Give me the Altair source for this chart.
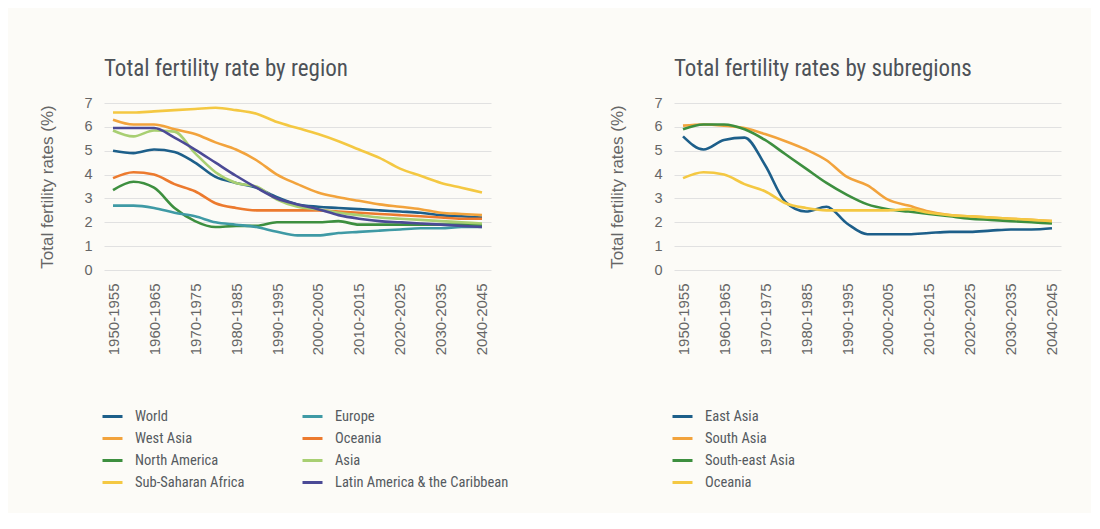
import altair as alt
import pandas as pd

periods = ["1950-1955", "1955-1960", "1960-1965", "1965-1970", "1970-1975",
           "1975-1980", "1980-1985", "1985-1990", "1990-1995", "1995-2000",
           "2000-2005", "2005-2010", "2010-2015", "2015-2020", "2020-2025",
           "2025-2030", "2030-2035", "2035-2040", "2040-2045"]
label_periods = periods[::2]

# Left chart: regions
world = [5.0, 4.9, 5.05, 4.95, 4.5, 3.9, 3.65, 3.45, 3.05, 2.75, 2.65, 2.6, 2.55, 2.5, 2.45, 2.4, 2.3, 2.25, 2.2]
europe = [2.7, 2.7, 2.6, 2.4, 2.25, 2.0, 1.9, 1.8, 1.6, 1.45, 1.45, 1.55, 1.6, 1.65, 1.7, 1.75, 1.75, 1.8, 1.8]
west_asia = [6.3, 6.1, 6.1, 5.9, 5.7, 5.35, 5.05, 4.6, 4.0, 3.6, 3.25, 3.05, 2.9, 2.75, 2.65, 2.55, 2.4, 2.35, 2.3]
oceania = [3.85, 4.1, 4.0, 3.6, 3.3, 2.8, 2.6, 2.5, 2.5, 2.5, 2.5, 2.45, 2.4, 2.35, 2.3, 2.25, 2.2, 2.15, 2.15]
north_america = [3.35, 3.7, 3.45, 2.6, 2.05, 1.8, 1.85, 1.85, 2.0, 2.0, 2.0, 2.05, 1.9, 1.9, 1.9, 1.9, 1.9, 1.9, 1.9]
asia = [5.85, 5.6, 5.85, 5.8, 4.9, 4.1, 3.65, 3.5, 2.95, 2.65, 2.55, 2.4, 2.3, 2.2, 2.15, 2.1, 2.05, 2.0, 1.95]
ssa = [6.6, 6.6, 6.65, 6.7, 6.75, 6.8, 6.7, 6.55, 6.2, 5.95, 5.7, 5.4, 5.05, 4.7, 4.25, 3.95, 3.65, 3.45, 3.25]
latam = [5.95, 5.95, 5.95, 5.55, 5.05, 4.5, 3.95, 3.45, 3.0, 2.75, 2.55, 2.3, 2.15, 2.05, 2.0, 1.95, 1.9, 1.85, 1.8]

# legend order (filled column by column)
left_series = ["World", "West Asia", "North America", "Sub-Saharan Africa",
               "Europe", "Oceania", "Asia", "Latin America & the Caribbean"]
left_values = [world, west_asia, north_america, ssa, europe, oceania, asia, latam]
left_colors = ["#1d5f8a", "#f2a33c", "#3d8f3f", "#f4c842", "#3f9aa5", "#ec7a2e", "#a8cf72", "#4b4a96"]

# Right chart: subregions
east_asia = [5.6, 5.05, 5.45, 5.55, 4.4, 2.85, 2.45, 2.65, 1.95, 1.5, 1.5, 1.5, 1.55, 1.6, 1.6, 1.65, 1.7, 1.7, 1.75]
south_asia = [6.05, 6.1, 6.05, 5.95, 5.7, 5.4, 5.05, 4.6, 3.9, 3.55, 2.95, 2.7, 2.45, 2.3, 2.25, 2.2, 2.15, 2.1, 2.05]
se_asia = [5.9, 6.1, 6.1, 5.9, 5.45, 4.85, 4.25, 3.65, 3.15, 2.75, 2.55, 2.45, 2.35, 2.25, 2.15, 2.1, 2.05, 2.0, 1.95]
oceania_r = [3.85, 4.1, 4.0, 3.6, 3.3, 2.8, 2.6, 2.5, 2.5, 2.5, 2.5, 2.55, 2.4, 2.3, 2.25, 2.2, 2.15, 2.1, 2.05]

right_series = ["East Asia", "South Asia", "South-east Asia", "Oceania"]
right_values = [east_asia, south_asia, se_asia, oceania_r]
right_colors = ["#1d5f8a", "#f2a33c", "#3d8f3f", "#f4c842"]


def long_df(names, values):
    rows = []
    for n, vals in zip(names, values):
        for p, v in zip(periods, vals):
            rows.append({"period": p, "value": v, "series": n})
    return pd.DataFrame(rows)


COND = "Roboto Condensed, DejaVu Sans Condensed, sans-serif"
SANS = "Liberation Sans, Arial, sans-serif"


def panel(df, names, colors, title, columns):
    x = alt.X("period:N", sort=periods,
              scale=alt.Scale(type="point", padding=0.44),
              axis=alt.Axis(values=label_periods, labelAngle=-90, title=None,
                            ticks=False, domain=False, grid=False,
                            labelPadding=13, labelFontSize=15, labelColor="#666666",
                            labelFont=SANS))
    y = alt.Y("value:Q", scale=alt.Scale(domain=[0, 7]),
              axis=alt.Axis(values=[0, 1, 2, 3, 4, 5, 6, 7], title="Total fertility rates (%)",
                            ticks=False, domain=False, grid=True, gridColor="#e1e1e1",
                            gridWidth=1.2, labelPadding=12, labelFontSize=14.5,
                            labelColor="#666666", labelFont=SANS, titleFont=SANS,
                            titleFontSize=17, titleFontWeight="normal", titleColor="#666666",
                            titlePadding=27))
    color = alt.Color("series:N",
                      scale=alt.Scale(domain=names, range=colors),
                      sort=names,
                      legend=alt.Legend(title=None, orient="none", legendX=-3, legendY=302,
                                        columns=columns, symbolType="stroke",
                                        symbolSize=400, symbolStrokeWidth=3,
                                        labelFont=COND, labelFontSize=14.5,
                                        labelColor="#555a60", labelOffset=11,
                                        rowPadding=4, columnPadding=51,
                                        labelLimit=400))
    return alt.Chart(df).mark_line(strokeWidth=2.6, interpolate="monotone").encode(
        x=x, y=y, color=color
    ).properties(
        width=387, height=167,
        title=alt.TitleParams(title, anchor="start", frame="group", font=COND,
                              fontSize=23, fontWeight="normal", color="#4d5258",
                              offset=14)
    )


left_df = long_df(left_series, left_values)
right_df = long_df(right_series, right_values)

left = panel(left_df, left_series, left_colors, "Total fertility rate by region", 2)
right = panel(right_df, right_series, right_colors, "Total fertility rates by subregions", 1)

chart = alt.hconcat(left, right, spacing=183, bounds="flush").resolve_scale(
    color="independent"
).properties(
    background="#fcfbf7",
    padding={"left": 30, "top": 50, "right": 30, "bottom": 24}
).configure_view(stroke=None)

chart.save("out.html", embed_options={"renderer": "svg", "actions": False})
